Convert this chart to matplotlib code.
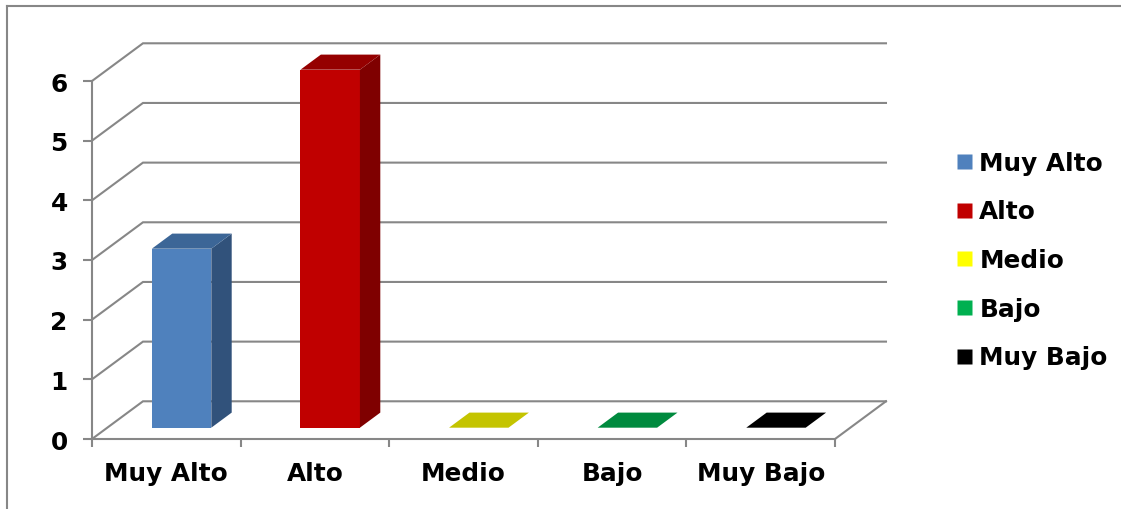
import matplotlib
matplotlib.use("Agg")
import matplotlib.pyplot as plt
from matplotlib.patches import Polygon
from matplotlib.lines import Line2D

# Data
categories = ["Muy Alto", "Alto", "Medio", "Bajo", "Muy Bajo"]
values = [3, 6, 0, 0, 0]
y_ticks = [0, 1, 2, 3, 4, 5, 6]

# Face colours: front, side, top; legend colours
front_colors = ["#4F81BD", "#C00000", "#C4C400", "#008A3E", "#000000"]
side_colors = ["#31527B", "#7F0000", "#9A9A00", "#006B30", "#000000"]
top_colors = ["#3C6697", "#950000", "#C4C400", "#008A3E", "#000000"]
legend_colors = ["#4F81BD", "#C00000", "#FFFF00", "#00B050", "#000000"]

GRID = "#878787"
FONT = {"family": "DejaVu Sans", "weight": "bold", "size": 17.8}

# Oblique projection of the depth axis (in data units)
DX, DY = 0.343, 0.632
F0, F1 = 0.30, 0.70      # bar depth extent (fraction of floor depth)
HALF = 0.20              # half bar width

fig = plt.figure(figsize=(11.21, 5.10), dpi=100)
fig.patch.set_facecolor("white")

ax = fig.add_axes([92 / 1121, 1 - 440 / 510, (835 - 92) / 1121, (440 - 82) / 510])
ax.set_xlim(-0.5, len(categories) - 0.5)
ax.set_ylim(0, 6)
ax.set_facecolor("none")

x_left, x_right = -0.5, len(categories) - 0.5

# Side wall and back wall gridlines
for y in y_ticks:
    ax.plot([x_left, x_left + DX, x_right + DX], [y, y + DY, y + DY],
            color=GRID, lw=1.5, clip_on=False, zorder=1, solid_joinstyle="miter")
# Right edge of the floor
ax.plot([x_right, x_right + DX], [0, DY], color=GRID, lw=1.5, clip_on=False, zorder=1)

# 3-D bars
for i, v in enumerate(values):
    xl, xr = i - HALF, i + HALF
    front = [(xl + F0 * DX, F0 * DY), (xr + F0 * DX, F0 * DY),
             (xr + F0 * DX, v + F0 * DY), (xl + F0 * DX, v + F0 * DY)]
    side = [(xr + F0 * DX, F0 * DY), (xr + F1 * DX, F1 * DY),
            (xr + F1 * DX, v + F1 * DY), (xr + F0 * DX, v + F0 * DY)]
    top = [(xl + F0 * DX, v + F0 * DY), (xr + F0 * DX, v + F0 * DY),
           (xr + F1 * DX, v + F1 * DY), (xl + F1 * DX, v + F1 * DY)]
    if v > 0:
        ax.add_patch(Polygon(front, closed=True, facecolor=front_colors[i],
                             edgecolor="none", clip_on=False, zorder=3))
        ax.add_patch(Polygon(side, closed=True, facecolor=side_colors[i],
                             edgecolor="none", clip_on=False, zorder=3))
    ax.add_patch(Polygon(top, closed=True, facecolor=top_colors[i],
                         edgecolor="none", clip_on=False, zorder=3))

# Front axes
for s in ["top", "right"]:
    ax.spines[s].set_visible(False)
for s in ["left", "bottom"]:
    ax.spines[s].set_color(GRID)
    ax.spines[s].set_linewidth(1.5)
    ax.spines[s].set_zorder(2)

ax.set_yticks(y_ticks)
ax.set_yticklabels([str(t) for t in y_ticks], fontdict=FONT)
ax.tick_params(axis="y", length=6.5, width=1.5, color=GRID, pad=11)

ax.set_xticks(range(len(categories)))
ax.set_xticklabels(categories, fontdict=FONT)
ax.set_xticks([k - 0.5 for k in range(len(categories) + 1)], minor=True)
ax.tick_params(axis="x", which="major", length=0, pad=16)
ax.tick_params(axis="x", which="minor", length=6, width=1.5, color=GRID)

# Legend
handles = [Line2D([], [], marker="s", linestyle="none", markersize=10.8,
                  markerfacecolor=c, markeredgecolor="none") for c in legend_colors]
leg = fig.legend(handles, categories, loc="center left",
                 bbox_to_anchor=(957 / 1121, 1 - 261 / 510),
                 frameon=False, prop=FONT, handlelength=0.6, handletextpad=0.3,
                 labelspacing=1.0, borderpad=0, borderaxespad=0)

# Chart area border
fig.add_artist(Line2D([7 / 1121, 1.0], [1 - 7 / 510, 1 - 7 / 510],
                      color=GRID, lw=1.5, transform=fig.transFigure))
fig.add_artist(Line2D([7 / 1121, 7 / 1121], [0, 1 - 7 / 510],
                      color=GRID, lw=1.5, transform=fig.transFigure))

fig.savefig("out.png", dpi=100, facecolor="white")
